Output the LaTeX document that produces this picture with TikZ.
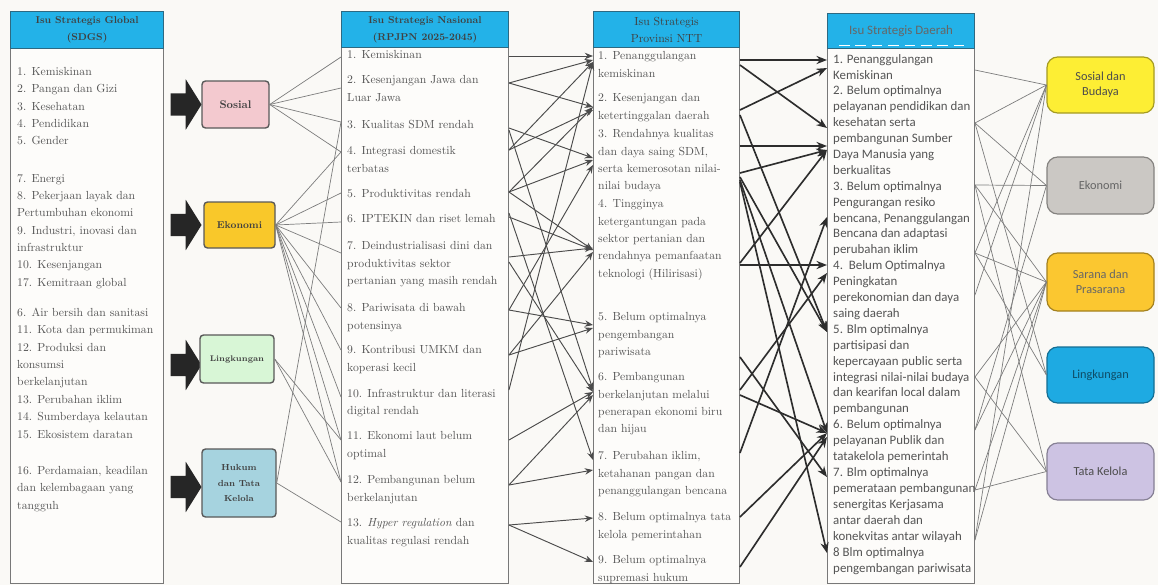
\documentclass[tikz,border=0pt]{standalone}
\usepackage{fontspec}
\newfontfamily\calibrifont{Carlito}
\usepackage{tikz}
\usetikzlibrary{positioning,arrows.meta,shapes.arrows}
\usepackage{xcolor}
\definecolor{pagebg}{RGB}{250,249,246}
\definecolor{listbg}{RGB}{253,252,250}
\definecolor{headcyan}{RGB}{35,178,232}
\definecolor{headline}{RGB}{45,105,130}
\definecolor{boxline}{RGB}{120,120,120}
\definecolor{itemgray}{RGB}{85,85,85}
\definecolor{linkgray}{RGB}{125,125,125}
\definecolor{flowgray}{RGB}{75,75,75}
\definecolor{flowdark}{RGB}{45,45,45}
\definecolor{sospink}{RGB}{243,201,207}
\definecolor{ekoyellow}{RGB}{249,200,42}
\definecolor{linggreen}{RGB}{216,246,214}
\definecolor{hukblue}{RGB}{166,211,223}
\definecolor{sbyellow}{RGB}{253,238,52}
\definecolor{ekgray}{RGB}{203,200,196}
\definecolor{spgold}{RGB}{251,199,48}
\definecolor{lgblue}{RGB}{30,170,226}
\definecolor{tklilac}{RGB}{205,195,227}
\newlength\px
\setlength\px{0.03cm}
\tikzset{
  headbox/.style={draw=headline,line width=1pt,fill=headcyan,anchor=north west,inner sep=0pt,
    align=center,text=black!75,font=\fontsize{8.5}{14.5}\selectfont\bfseries},
  listbox/.style={draw=boxline,line width=0.8pt,fill=listbg,anchor=north west,inner sep=0pt},
  itemtext/.style={anchor=north west,inner sep=0pt,align=left,text=itemgray,
    font=\fontsize{10}{14.8}\selectfont},
  daerahtext/.style={anchor=north west,inner sep=0pt,align=left,text=itemgray,
    font=\calibrifont\fontsize{11}{13.55}\selectfont},
  fatarrow/.style={single arrow,fill=black!85,draw=none,inner xsep=0pt,inner ysep=11\px,
    minimum height=31\px,single arrow head extend=14\px,single arrow tip angle=116},
  catbox/.style={draw=black!65,line width=1.2pt,rounded corners=3pt,inner sep=0pt,
    align=center,text=black!75},
  goalbox/.style={rounded corners=9pt,line width=1pt,inner sep=0pt,minimum width=107\px,
    align=center,font=\calibrifont\fontsize{10.5}{13}\selectfont},
  link/.style={draw=linkgray,line width=0.6pt},
  flow/.style={draw=flowgray,line width=0.8pt,-{Stealth[length=7pt,width=5.5pt]}},
  bigflow/.style={draw=flowdark,line width=1.4pt,-{Stealth[length=9pt,width=7pt]}}
}
\begin{document}
\begin{tikzpicture}[x=0.03cm,y=-0.03cm]
\fill[pagebg] (0,0) rectangle (1158,585);
\useasboundingbox (0,0) rectangle (1158,585);

% isu global (SDGs)
\node[listbox,minimum width=153\px,minimum height=535\px] (gbox) at (10,48) {};
\node[headbox,minimum width=153\px,minimum height=37\px] (ghead) at (10,11) {Isu Strategis Global\\(SDGS)};
\node[itemtext] (g1) at (17,67) {1. Kemiskinan\\2. Pangan dan Gizi\\3. Kesehatan\\4. Pendidikan\\5. Gender};
\node[itemtext] (g2) at (17,174) {7. Energi\\8. Pekerjaan layak dan\\Pertumbuhan ekonomi\\9. Industri, inovasi dan\\infrastruktur\\10. Kesenjangan\\17. Kemitraan global};
\node[itemtext] (g3) at (17,308) {6. Air bersih dan sanitasi\\11. Kota dan permukiman\\12. Produksi dan\\konsumsi\\berkelanjutan\\13. Perubahan iklim\\14. Sumberdaya kelautan\\15. Ekosistem daratan};
\node[itemtext] (g4) at (17,466) {16. Perdamaian, keadilan\\dan kelembagaan yang\\tangguh};

% panah tebal dan kategori
\node[fatarrow] (arr1) at (182.5,104.5) {};
\node[fatarrow] (arr2) at (182.5,225) {};
\node[fatarrow] (arr3) at (182.5,365) {};
\node[fatarrow] (arr4) at (182.5,487) {};
\node[catbox,fill=sospink,minimum width=67\px,minimum height=47\px,font=\fontsize{9.5}{12}\selectfont\bfseries] (sosial) at (235.5,104.5) {Sosial};
\node[catbox,fill=ekoyellow,minimum width=71\px,minimum height=46\px,font=\fontsize{8.5}{12}\selectfont\bfseries] (ekonomi) at (239.5,225) {Ekonomi};
\node[catbox,fill=linggreen,minimum width=74\px,minimum height=48\px,font=\fontsize{7}{10}\selectfont\bfseries] (lingk) at (237,359) {Lingkungan};
\node[catbox,fill=hukblue,minimum width=74\px,minimum height=68\px,font=\fontsize{7.5}{13}\selectfont\bfseries] (hukum) at (239,483) {Hukum\\dan Tata\\Kelola};

% isu nasional (RPJPN)
\node[listbox,minimum width=167\px,minimum height=536\px] (nbox) at (341,47) {};
\node[headbox,minimum width=167\px,minimum height=36\px] (nhead) at (341,11) {Isu Strategis Nasional\\(RPJPN 2025-2045)};
\node[itemtext] (n1) at (347,50.5) {1. Kemiskinan};
\node[itemtext] (n2) at (347,75.5) {2. Kesenjangan Jawa dan\\Luar Jawa};
\node[itemtext] (n3) at (347,120.5) {3. Kualitas SDM rendah};
\node[itemtext] (n4) at (347,146.5) {4. Integrasi domestik\\terbatas};
\node[itemtext] (n5) at (347,189.5) {5. Produktivitas rendah};
\node[itemtext] (n6) at (347,214.5) {6. IPTEKIN dan riset lemah};
\node[itemtext] (n7) at (347,241.5) {7. Deindustrialisasi dini dan\\produktivitas sektor\\pertanian yang masih rendah};
\node[itemtext] (n8) at (347,303.5) {8. Pariwisata di bawah\\potensinya};
\node[itemtext] (n9) at (347,345.5) {9. Kontribusi UMKM dan\\koperasi kecil};
\node[itemtext] (n10) at (347,388.5) {10. Infrastruktur dan literasi\\digital rendah};
\node[itemtext] (n11) at (347,431.5) {11. Ekonomi laut belum\\optimal};
\node[itemtext] (n12) at (347,475.5) {12. Pembangunan belum\\berkelanjutan};
\node[itemtext] (n13) at (347,518.5) {13. \emph{Hyper regulation} dan\\kualitas regulasi rendah};

% isu provinsi NTT
\node[listbox,minimum width=146\px,minimum height=536\px] (pbox) at (593,47) {};
\node[headbox,minimum width=146\px,minimum height=36\px,font=\fontsize{10}{14.5}\selectfont] (phead) at (593,11) {Isu Strategis\\Provinsi NTT};
\node[itemtext] (p1) at (598,51.5) {1. Penanggulangan\\kemiskinan};
\node[itemtext] (p2) at (598,93.5) {2. Kesenjangan dan\\ketertinggalan daerah};
\node[itemtext] (p3) at (598,129.5) {3. Rendahnya kualitas\\dan daya saing SDM,\\serta kemerosotan nilai-\\nilai budaya};
\node[itemtext] (p4) at (598,199.5) {4. Tingginya\\ketergantungan pada\\sektor pertanian dan\\rendahnya pemanfaatan\\teknologi (Hilirisasi)};
\node[itemtext] (p5) at (598,312.5) {5. Belum optimalnya\\pengembangan\\pariwisata};
\node[itemtext] (p6) at (598,372.5) {6. Pembangunan\\berkelanjutan melalui\\penerapan ekonomi biru\\dan hijau};
\node[itemtext] (p7) at (598,451.5) {7. Perubahan iklim,\\ketahanan pangan dan\\penanggulangan bencana};
\node[itemtext] (p8) at (598,512.5) {8. Belum optimalnya tata\\kelola pemerintahan};
\node[itemtext] (p9) at (598,555.5) {9. Belum optimalnya\\supremasi hukum};

% isu daerah
\node[listbox,minimum width=147\px,minimum height=535\px] (dbox) at (827,48) {};
\node[headbox,minimum width=147\px,minimum height=35\px,font=\calibrifont\fontsize{11}{13}\selectfont,text=black!60] (dhead) at (827,13) {Isu Strategis Daerah};
\draw[white,line width=0.8pt,dash pattern=on 9pt off 5pt] ([xshift=12\px,yshift=4\px]dhead.south west) -- ([xshift=-6\px,yshift=4\px]dhead.south east);
\node[daerahtext] (d1) at (833,54) {1. Penanggulangan\\Kemiskinan};
\node[daerahtext] (d2) at (833,85.8) {2. Belum optimalnya\\pelayanan pendidikan dan\\kesehatan serta\\pembangunan Sumber\\Daya Manusia yang\\berkualitas};
\node[daerahtext] (d3) at (833,181.1) {3. Belum optimalnya\\Pengurangan resiko\\bencana, Penanggulangan\\Bencana dan adaptasi\\perubahan iklim};
\node[daerahtext] (d4) at (833,260.7) {4.\ \ Belum Optimalnya\\Peningkatan\\perekonomian dan daya\\saing daerah};
\node[daerahtext] (d5) at (833,324.3) {5. Blm optimalnya\\partisipasi dan\\kepercayaan public serta\\integrasi nilai-nilai budaya\\dan kearifan local dalam\\pembangunan};
\node[daerahtext] (d6) at (833,419.7) {6. Belum optimalnya\\pelayanan Publik dan\\tatakelola pemerintah};
\node[daerahtext] (d7) at (833,467.4) {7. Blm optimalnya\\pemerataan pembangunan\\senergitas Kerjasama\\antar daerah dan\\konekvitas antar wilayah};
\node[daerahtext] (d8) at (833,547) {8 Blm optimalnya\\pengembangan pariwisata};

% bidang
\node[goalbox,fill=sbyellow,draw=sbyellow!65!black,minimum height=56\px,text=black!70] (sosbud) at (1100.5,85) {Sosial dan\\Budaya};
\node[goalbox,fill=ekgray,draw=ekgray!65!black,minimum height=57\px,text=black!60] (ekon) at (1100.5,185.5) {Ekonomi};
\node[goalbox,fill=spgold,draw=spgold!65!black,minimum height=58\px,text=black!60] (sarana) at (1100.5,282) {Sarana dan\\Prasarana};
\node[goalbox,fill=lgblue,draw=lgblue!65!black,minimum height=56\px,text=lgblue!45!black] (lingkg) at (1100.5,375) {Lingkungan};
\node[goalbox,fill=tklilac,draw=tklilac!65!black,minimum height=57\px,text=black!70] (tatak) at (1100.5,471.5) {Tata Kelola};

% kategori -> nasional
\foreach \y in {57,88,122,152} \draw[link] (sosial.east) -- (nbox.west |- 0,\y);
\foreach \y in {152,193,222,253,308,350,397,440,482} \draw[link] (ekonomi.east) -- (nbox.west |- 0,\y);
\foreach \y in {440,482} \draw[link] (lingk.east) -- (nbox.west |- 0,\y);
\foreach \y in {122,522} \draw[link] (hukum.east) -- (nbox.west |- 0,\y);

% nasional -> provinsi
\foreach \ya/\yb in {56/56,83/60,83/107,128/158,130/390,150/62,150/110,192/107,192/160,192/250,
    217/250,213/460,257/248,262/392,310/325,310/165,355/252,355/328,390/62,440/392,485/395,
    485/470,525/518,525/562}
  \draw[flow] (nbox.east |- 0,\ya) -- (pbox.west |- 0,\yb);

% provinsi -> daerah
\foreach \ya/\yb in {60/60,65/128,110/68,115/332,146/146,173/150,177/332,180/433,182/553,
    263/150,265/265,357/477,390/273,395/433,453/217,517/433,567/437}
  \draw[bigflow] (pbox.east |- 0,\ya) -- (dbox.west |- 0,\yb);

% daerah -> bidang
\foreach \ya/\g in {70/sosbud,123/sosbud,123/ekon,123/lingkg,185/ekon,185/sarana,185/tatak,
    253/sosbud,253/sarana,253/lingkg,295/sosbud,377/sarana,377/tatak,430/sarana,430/ekon,
    490/sarana,490/tatak,540/sarana,540/sosbud}
  \draw[link] (dbox.east |- 0,\ya) -- (\g.west);
\end{tikzpicture}
\end{document}
